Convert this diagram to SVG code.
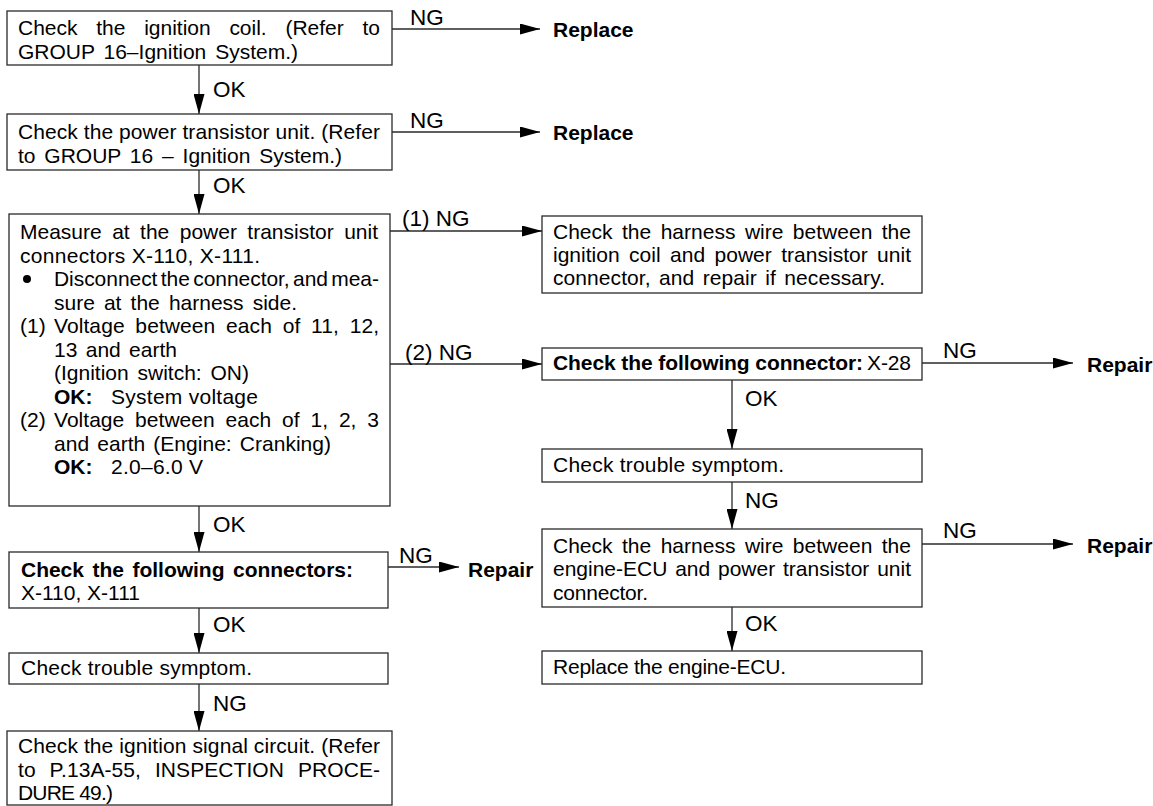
<svg xmlns="http://www.w3.org/2000/svg" width="1153" height="806" viewBox="0 0 1153 806">
<style>
.box{fill:#fff;stroke:#2a2a2a;stroke-width:1.3}
.t{font-family:"Liberation Sans",Arial,Helvetica,sans-serif;font-size:21px;fill:#000}
.b{font-weight:bold}
.lbl{font-size:22.5px}
.conn{stroke:#2a2a2a;stroke-width:1.3;fill:none;marker-end:url(#arr)}
</style>
<defs>
<marker id="arr" markerUnits="userSpaceOnUse" markerWidth="20" markerHeight="11" refX="20" refY="5.5" orient="auto" viewBox="0 0 20 11">
<path d="M0,0 L20,5.5 L0,11 z" fill="#000"/>
</marker>
</defs>
<rect width="1153" height="806" fill="#fff"/>

<g id="connectors">
<line class="conn" x1="199" y1="65" x2="199" y2="114"/>
<line class="conn" x1="199" y1="170" x2="199" y2="214"/>
<line class="conn" x1="199" y1="506" x2="199" y2="552"/>
<line class="conn" x1="199" y1="608" x2="199" y2="653"/>
<line class="conn" x1="199" y1="684" x2="199" y2="731"/>
<line class="conn" x1="392" y1="29" x2="540" y2="29"/>
<line class="conn" x1="392" y1="132" x2="540" y2="132"/>
<line class="conn" x1="390" y1="231" x2="542" y2="231"/>
<line class="conn" x1="390" y1="364" x2="542" y2="364"/>
<line class="conn" x1="388" y1="567" x2="459" y2="567"/>
<line class="conn" x1="732" y1="380" x2="732" y2="449"/>
<line class="conn" x1="732" y1="482" x2="732" y2="529"/>
<line class="conn" x1="732" y1="607" x2="732" y2="651"/>
<line class="conn" x1="922" y1="363" x2="1073" y2="363"/>
<line class="conn" x1="922" y1="544" x2="1073" y2="544"/>
<g class="t lbl">
<text x="213" y="97">OK</text>
<text x="213" y="193">OK</text>
<text x="213" y="532">OK</text>
<text x="213" y="632">OK</text>
<text x="213" y="711">NG</text>
<text x="410" y="25">NG</text>
<text x="410" y="128">NG</text>
<text x="402" y="226">(1) NG</text>
<text x="405" y="360">(2) NG</text>
<text x="399" y="563">NG</text>
<text x="745" y="406">OK</text>
<text x="745" y="508">NG</text>
<text x="745" y="631">OK</text>
<text x="943" y="358">NG</text>
<text x="943" y="538">NG</text>
</g>
</g>

<g id="replace1"><text class="t b" x="553" y="37">Replace</text></g>
<g id="replace2"><text class="t b" x="553" y="140">Replace</text></g>
<g id="repair1"><text class="t b" x="468" y="577">Repair</text></g>
<g id="repair2"><text class="t b" x="1087" y="372">Repair</text></g>
<g id="repair3"><text class="t b" x="1087" y="553">Repair</text></g>

<g id="n1">
<rect class="box" x="7" y="11" width="385" height="54"/>
<text class="t" x="18" y="35" word-spacing="12.9" textLength="362" lengthAdjust="spacing">Check the ignition coil. (Refer to</text>
<text class="t" x="18" y="59" word-spacing="3" textLength="280" lengthAdjust="spacing">GROUP 16–Ignition System.)</text>
</g>

<g id="n2">
<rect class="box" x="7" y="114" width="385" height="56"/>
<text class="t" x="18" y="139" textLength="362" lengthAdjust="spacing">Check the power transistor unit. (Refer</text>
<text class="t" x="18" y="163" word-spacing="3" textLength="324" lengthAdjust="spacing">to GROUP 16 – Ignition System.)</text>
</g>

<g id="n3">
<rect class="box" x="9" y="214" width="381" height="292"/>
<text class="t" x="20" y="239" word-spacing="4.6" textLength="358" lengthAdjust="spacing">Measure at the power transistor unit</text>
<text class="t" x="20" y="262.5" textLength="240" lengthAdjust="spacing">connectors X-110, X-111.</text>
<circle cx="27" cy="279" r="4" fill="#000"/>
<text class="t" x="54" y="286" word-spacing="-2.4" textLength="325" lengthAdjust="spacing">Disconnect the connector, and mea-</text>
<text class="t" x="54" y="309.5" word-spacing="3.3" textLength="243" lengthAdjust="spacing">sure at the harness side.</text>
<text class="t" x="20" y="333">(1)</text>
<text class="t" x="54" y="333" word-spacing="4.8" textLength="325" lengthAdjust="spacing">Voltage between each of 11, 12,</text>
<text class="t" x="54" y="356.5" word-spacing="2.5" textLength="123" lengthAdjust="spacing">13 and earth</text>
<text class="t" x="54" y="380" word-spacing="3" textLength="195" lengthAdjust="spacing">(Ignition switch: ON)</text>
<text class="t b" x="54" y="403.5">OK:</text>
<text class="t" x="111" y="403.5" textLength="147" lengthAdjust="spacing">System voltage</text>
<text class="t" x="20" y="427">(2)</text>
<text class="t" x="54" y="427" word-spacing="5" textLength="325" lengthAdjust="spacing">Voltage between each of 1, 2, 3</text>
<text class="t" x="54" y="450.5" word-spacing="2.3" textLength="277" lengthAdjust="spacing">and earth (Engine: Cranking)</text>
<text class="t b" x="54" y="474">OK:</text>
<text class="t" x="111" y="474" textLength="92" lengthAdjust="spacing">2.0–6.0 V</text>
</g>

<g id="n4">
<rect class="box" x="9" y="552" width="379" height="56"/>
<text class="t b" x="21" y="577" word-spacing="2.7" textLength="332" lengthAdjust="spacing">Check the following connectors:</text>
<text class="t" x="21" y="600" textLength="119" lengthAdjust="spacing">X-110, X-111</text>
</g>

<g id="n5">
<rect class="box" x="9" y="653" width="379" height="31"/>
<text class="t" x="21" y="675" textLength="231" lengthAdjust="spacing">Check trouble symptom.</text>
</g>

<g id="n6">
<rect class="box" x="7" y="731" width="385" height="74"/>
<text class="t" x="18" y="753" textLength="362" lengthAdjust="spacing">Check the ignition signal circuit. (Refer</text>
<text class="t" x="18" y="777" word-spacing="8" textLength="362" lengthAdjust="spacing">to P.13A-55, INSPECTION PROCE-</text>
<text class="t" x="18" y="800" textLength="95" lengthAdjust="spacing">DURE 49.)</text>
</g>

<g id="n7">
<rect class="box" x="542" y="216" width="380" height="77"/>
<text class="t" x="553" y="239" word-spacing="3.6" textLength="358" lengthAdjust="spacing">Check the harness wire between the</text>
<text class="t" x="553" y="262" word-spacing="3.6" textLength="358" lengthAdjust="spacing">ignition coil and power transistor unit</text>
<text class="t" x="553" y="285" word-spacing="2.5" textLength="332" lengthAdjust="spacing">connector, and repair if necessary.</text>
</g>

<g id="n8">
<rect class="box" x="542" y="348" width="380" height="32"/>
<text class="t b" x="553" y="370" textLength="310" lengthAdjust="spacing">Check the following connector:</text>
<text class="t" x="867" y="370" textLength="44" lengthAdjust="spacing">X-28</text>
</g>

<g id="n9">
<rect class="box" x="542" y="449" width="380" height="33"/>
<text class="t" x="553" y="472" textLength="231" lengthAdjust="spacing">Check trouble symptom.</text>
</g>

<g id="n10">
<rect class="box" x="542" y="529" width="380" height="78"/>
<text class="t" x="553" y="553" word-spacing="3.6" textLength="358" lengthAdjust="spacing">Check the harness wire between the</text>
<text class="t" x="553" y="576" word-spacing="2" textLength="358" lengthAdjust="spacing">engine-ECU and power transistor unit</text>
<text class="t" x="553" y="600" textLength="95" lengthAdjust="spacing">connector.</text>
</g>

<g id="n11">
<rect class="box" x="542" y="651" width="380" height="33"/>
<text class="t" x="553" y="674" textLength="233" lengthAdjust="spacing">Replace the engine-ECU.</text>
</g>
</svg>
